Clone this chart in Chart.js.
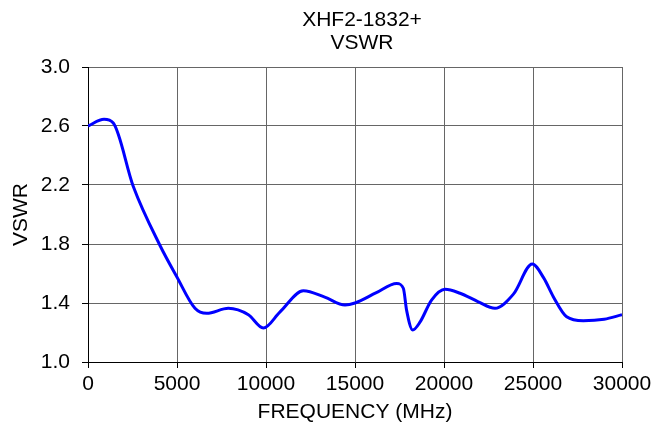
<!DOCTYPE html>
<html>
<head>
<meta charset="utf-8">
<script src="https://cdn.jsdelivr.net/npm/chart.js@4.4.1/dist/chart.umd.min.js"></script>
<style>
  html, body { margin: 0; padding: 0; background: #fff; }
  #wrap { width: 666px; height: 430px; }
</style>
</head>
<body>
<div id="wrap"><canvas id="chart" width="666" height="430"></canvas></div>
<script>
// frequency in MHz
const freq = [0, 900, 1420, 2545, 4045, 4980, 6010, 6670, 7885, 9010, 9850, 10790,
  12100, 13300, 14440, 15000, 16200, 17340, 17715, 17900, 18240, 18650, 19300, 20060,
  20900, 21900, 22865, 23900, 24960, 25600, 26140, 26890, 27825, 29000, 30000];
const vswr = [2.60, 2.645, 2.62, 2.19, 1.79, 1.58, 1.364, 1.33, 1.364, 1.32, 1.23, 1.34,
  1.483, 1.44, 1.386, 1.40, 1.47, 1.533, 1.50, 1.35, 1.217, 1.27, 1.42, 1.493,
  1.466, 1.41, 1.364, 1.46, 1.664, 1.57, 1.443, 1.307, 1.28, 1.29, 1.32];

const xTicks = [0, 5000, 10000, 15000, 20000, 25000, 30000];
const yTicks = [1.0, 1.4, 1.8, 2.2, 2.6, 3.0];
const titleLines = ['XHF2-1832+', 'VSWR'];

const points = freq.map((f, i) => ({ x: f, y: vswr[i] }));
const font = { family: 'Liberation Sans, Arial, sans-serif', size: 21 };

// the original title sits a little right of the plot centre
const topTitle = {
  id: 'topTitle',
  afterDraw(chart) {
    const ctx = chart.ctx;
    const cx = (chart.chartArea.left + chart.chartArea.right) / 2 + 7;
    ctx.save();
    ctx.fillStyle = '#000';
    ctx.font = '21px Liberation Sans, Arial, sans-serif';
    ctx.textAlign = 'center';
    ctx.textBaseline = 'middle';
    titleLines.forEach((t, i) => ctx.fillText(t, cx, 20 + i * 23));
    ctx.restore();
  }
};

new Chart(document.getElementById('chart'), {
  type: 'line',
  data: {
    datasets: [{
      data: points,
      borderColor: '#0000ff',
      borderWidth: 3,
      pointRadius: 0,
      cubicInterpolationMode: 'monotone',
      fill: false
    }]
  },
  options: {
    responsive: false,
    animation: false,
    layout: { padding: { left: 0, right: 44, top: 67, bottom: 0 } },
    plugins: {
      legend: { display: false },
      tooltip: { enabled: false },
      title: { display: false }
    },
    scales: {
      x: {
        type: 'linear',
        min: 0,
        max: 30000,
        afterBuildTicks: s => { s.ticks = xTicks.map(v => ({ value: v })); },
        afterFit: s => { s.height = 68; },
        ticks: { color: '#000', font, padding: 4, maxRotation: 0, callback: v => String(v) },
        grid: { color: '#666', tickLength: 6, tickColor: '#000' },
        border: { color: '#000' },
        title: { display: true, text: 'FREQUENCY (MHz)', color: '#000', font, padding: { top: 0, bottom: 5 } }
      },
      y: {
        min: 1,
        max: 3,
        afterBuildTicks: s => { s.ticks = yTicks.map(v => ({ value: v })); },
        afterFit: s => { s.width = 88; },
        ticks: { color: '#000', font, padding: 12, callback: v => v.toFixed(1) },
        grid: { color: '#666', tickLength: 6, tickColor: '#000' },
        border: { color: '#000' },
        title: { display: true, text: 'VSWR', color: '#000', font, padding: { top: 9, bottom: 0 } }
      }
    }
  },
  plugins: [topTitle]
});
</script>
</body>
</html>
